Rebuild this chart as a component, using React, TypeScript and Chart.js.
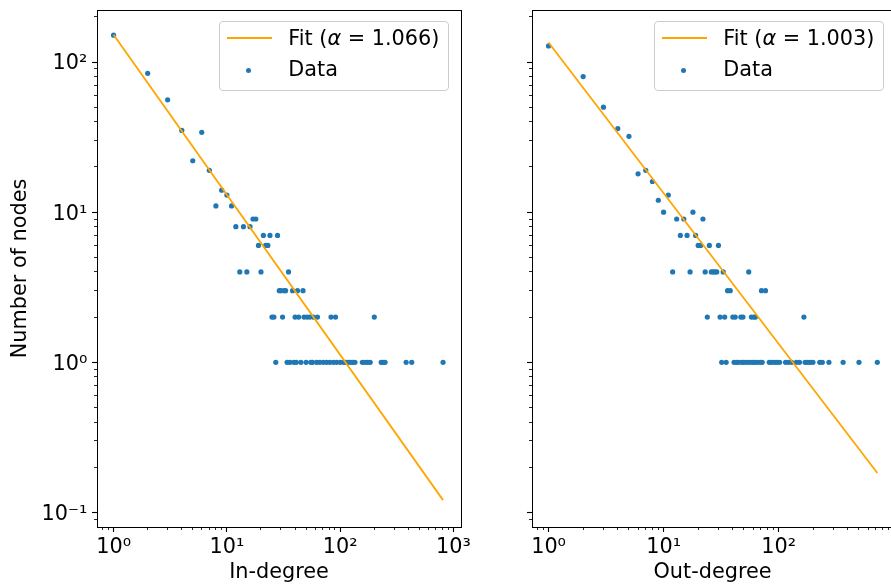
import React, { useEffect, useRef } from "react";
import { Chart, registerables } from "chart.js";

Chart.register(...registerables);

const FONT = "'DejaVu Sans', 'Noto Sans', sans-serif";
const FONT_SIZE = 20.8;

// ---- data ----
const inDegree = [1, 2, 3, 4, 5, 6, 7, 8, 9, 10, 11, 12, 13, 14, 15, 16, 17, 18, 19, 20, 21, 22, 23, 24, 25, 26, 27, 28, 29, 30, 31, 32, 33, 34, 35, 36, 38, 39, 40, 41, 42, 43, 45, 47, 48, 50, 51, 54, 55, 57, 58, 62, 63, 66, 71, 76, 81, 83, 87, 91, 93, 100, 107, 112, 117, 123, 129, 135, 157, 166, 175, 184, 200, 230, 239, 249, 382, 428, 809];
const inCount = [151, 84, 56, 35, 22, 34, 19, 11, 14, 13, 11, 8, 4, 8, 4, 8, 9, 9, 6, 4, 7, 6, 6, 7, 2, 2, 1, 7, 3, 3, 2, 3, 3, 1, 4, 1, 3, 1, 2, 1, 3, 2, 1, 3, 2, 1, 2, 2, 1, 1, 2, 1, 2, 1, 1, 1, 1, 2, 1, 2, 1, 1, 1, 1, 1, 1, 1, 1, 1, 1, 1, 1, 2, 1, 1, 1, 1, 1, 1];

const outDegree = [1, 2, 3, 4, 5, 6, 7, 8, 9, 10, 11, 12, 13, 14, 15, 16, 17, 18, 19, 20, 21, 22, 23, 24, 25, 26, 27, 28, 29, 30, 31, 32, 33, 34, 35, 36, 38, 40, 41, 42, 43, 45, 47, 48, 49, 50, 53, 55, 56, 58, 59, 61, 62, 63, 65, 69, 71, 72, 77, 83, 87, 92, 97, 102, 115, 122, 130, 143, 152, 166, 170, 179, 188, 199, 228, 240, 274, 364, 500, 722];
const outCount = [128, 80, 50, 36, 32, 18, 19, 16, 12, 10, 13, 4, 9, 7, 9, 7, 4, 10, 7, 6, 6, 9, 4, 2, 6, 4, 4, 4, 4, 6, 2, 1, 4, 2, 1, 3, 3, 2, 1, 2, 1, 1, 2, 1, 2, 1, 1, 4, 1, 2, 1, 2, 1, 2, 1, 1, 3, 1, 3, 1, 1, 1, 1, 1, 1, 1, 1, 1, 1, 2, 1, 1, 1, 1, 1, 1, 1, 1, 1, 1];

const fitInAlpha = 1.066;
const fitInScale = 152;
const fitOutAlpha = 1.003;
const fitOutScale = 135;

const yRange = [0.08, 222];
const xRangeIn = [0.714, 1165];
const xRangeOut = [0.718, 990];

const majorExponents = [-1, 0, 1, 2, 3];
const minorMultipliers = [2, 3, 4, 5, 6, 7, 8, 9];
const tickLabels: Record<string, string> = {
  "-1": "10\u207B\u00B9",
  "0": "10\u2070",
  "1": "10\u00B9",
  "2": "10\u00B2",
  "3": "10\u00B3",
};

// ---- helpers ----
function majorTicks(min: number, max: number) {
  return majorExponents
    .map((e) => Math.pow(10, e))
    .filter((v) => v >= min && v <= max);
}
function minorTicks(min: number, max: number) {
  const out: number[] = [];
  for (const e of [-2, ...majorExponents]) {
    for (const m of minorMultipliers) {
      const v = m * Math.pow(10, e);
      if (v > min * 1.005 && v < max / 1.005) out.push(v);
    }
  }
  return out;
}
function labelFor(v: number) {
  const e = Math.round(Math.log10(v));
  return tickLabels[String(e)] ?? "";
}
function noPad(s: any) {
  s.paddingTop = 0;
  s.paddingBottom = 0;
  s.paddingLeft = 0;
  s.paddingRight = 0;
}

type PanelOpts = {
  degrees: number[];
  counts: number[];
  alpha: number;
  scale: number;
  xRange: number[];
  xTitle: string;
  yTitle?: string;
  yLabels: boolean;
  yAxisWidth: number;
  padRight: number;
};

function panelConfig(o: PanelOpts): any {
  const [xMin, xMax] = o.xRange;
  const [yMin, yMax] = yRange;
  const dmax = Math.max(...o.degrees);
  const fit = [
    { x: 1, y: o.scale },
    { x: dmax, y: o.scale * Math.pow(dmax, -o.alpha) },
  ];
  const pts = o.degrees.map((d, i) => ({ x: d, y: o.counts[i] }));
  const font = { family: FONT, size: FONT_SIZE };

  const xBase = { type: "logarithmic", min: xMin, max: xMax, bounds: "data" };
  const yBase = { type: "logarithmic", min: yMin, max: yMax, bounds: "data" };

  return {
    type: "scatter",
    data: {
      datasets: [
        {
          label: "Fit",
          data: fit,
          showLine: true,
          borderColor: "#ffa500",
          borderWidth: 1.8,
          pointRadius: 0,
          fill: false,
          xAxisID: "x",
          yAxisID: "y",
        },
        {
          label: "Data",
          data: pts,
          backgroundColor: "#1f77b4",
          borderWidth: 0,
          pointRadius: 2.6,
          xAxisID: "x",
          yAxisID: "y",
        },
      ],
    },
    options: {
      responsive: false,
      animation: false,
      devicePixelRatio: 1,
      layout: { padding: { top: 10, right: o.padRight, bottom: 0, left: 0 } },
      plugins: { legend: { display: false }, tooltip: { enabled: false } },
      scales: {
        x: {
          ...xBase,
          position: "bottom",
          weight: 1,
          afterBuildTicks: (s: any) => {
            s.ticks = majorTicks(xMin, xMax).map((v) => ({ value: v }));
          },
          afterFit: (s: any) => {
            s.height = 58;
            noPad(s);
          },
          ticks: {
            callback: (v: any) => labelFor(Number(v)),
            font,
            color: "#000",
            padding: 3.5,
            autoSkip: false,
            maxRotation: 0,
            minRotation: 0,
          },
          grid: { drawOnChartArea: false, drawTicks: true, tickLength: 5, tickWidth: 1.1, tickColor: "#000" },
          border: { display: true, color: "#000", width: 1 },
          title: { display: true, text: o.xTitle, font, color: "#000", padding: { top: 0, bottom: 0 } },
        },
        xm: {
          ...xBase,
          position: "bottom",
          weight: 0,
          afterBuildTicks: (s: any) => {
            s.ticks = minorTicks(xMin, xMax).map((v) => ({ value: v }));
          },
          afterFit: (s: any) => {
            s.height = 0;
            noPad(s);
          },
          ticks: { display: false },
          grid: { drawOnChartArea: false, drawTicks: true, tickLength: 3, tickWidth: 0.85, tickColor: "#000" },
          border: { display: false },
        },
        xt: {
          ...xBase,
          position: "top",
          afterFit: (s: any) => {
            s.height = 0;
            noPad(s);
          },
          ticks: { display: false },
          grid: { display: false, drawTicks: false, drawOnChartArea: false },
          border: { display: true, color: "#000", width: 1 },
        },
        y: {
          ...yBase,
          position: "left",
          weight: 1,
          afterBuildTicks: (s: any) => {
            s.ticks = majorTicks(yMin, yMax).map((v) => ({ value: v }));
          },
          afterFit: (s: any) => {
            s.width = o.yAxisWidth;
            noPad(s);
          },
          ticks: {
            display: o.yLabels,
            callback: (v: any) => labelFor(Number(v)),
            font,
            color: "#000",
            padding: 4.7,
            autoSkip: false,
            labelOffset: 2,
          },
          grid: { drawOnChartArea: false, drawTicks: true, tickLength: 5, tickWidth: 1.1, tickColor: "#000" },
          border: { display: true, color: "#000", width: 1 },
          title: {
            display: !!o.yTitle,
            text: o.yTitle || "",
            font,
            color: "#000",
            padding: { top: 8.5, bottom: 0 },
          },
        },
        ym: {
          ...yBase,
          position: "left",
          weight: 0,
          afterBuildTicks: (s: any) => {
            s.ticks = minorTicks(yMin, yMax).map((v) => ({ value: v }));
          },
          afterFit: (s: any) => {
            s.width = 0;
            noPad(s);
          },
          ticks: { display: false },
          grid: { drawOnChartArea: false, drawTicks: true, tickLength: 3, tickWidth: 0.85, tickColor: "#000" },
          border: { display: false },
        },
        yr: {
          ...yBase,
          position: "right",
          afterFit: (s: any) => {
            s.width = 0;
            noPad(s);
          },
          ticks: { display: false },
          grid: { display: false, drawTicks: false, drawOnChartArea: false },
          border: { display: true, color: "#000", width: 1 },
        },
      },
    },
  };
}

function Legend({ left, alpha }: { left: number; alpha: string }) {
  return (
    <div
      style={{
        position: "absolute",
        left,
        top: 20.5,
        width: 230,
        height: 70,
        boxSizing: "border-box",
        border: "1px solid #cccccc",
        borderRadius: 4,
        background: "rgba(255,255,255,0.8)",
        fontFamily: FONT,
        fontSize: FONT_SIZE,
        color: "#000",
      }}
    >
      <div style={{ position: "absolute", left: 7, top: 15.2, width: 45, height: 2, background: "#ffa500" }} />
      <div style={{ position: "absolute", left: 68.3, top: 4.1, lineHeight: "24px", whiteSpace: "nowrap" }}>
        Fit (<i>α</i> = {alpha})
      </div>
      <div
        style={{
          position: "absolute",
          left: 25.5,
          top: 46.8,
          width: 5.2,
          height: 5.2,
          borderRadius: "50%",
          background: "#1f77b4",
        }}
      />
      <div style={{ position: "absolute", left: 68.3, top: 35.8, lineHeight: "24px", whiteSpace: "nowrap" }}>
        Data
      </div>
    </div>
  );
}

export default function App() {
  const leftRef = useRef<HTMLCanvasElement>(null);
  const rightRef = useRef<HTMLCanvasElement>(null);

  useEffect(() => {
    const c1 = new Chart(
      leftRef.current as HTMLCanvasElement,
      panelConfig({
        degrees: inDegree,
        counts: inCount,
        alpha: fitInAlpha,
        scale: fitInScale,
        xRange: xRangeIn,
        xTitle: "In-degree",
        yTitle: "Number of nodes",
        yLabels: true,
        yAxisWidth: 97,
        padRight: 500 - 461,
      })
    );
    const c2 = new Chart(
      rightRef.current as HTMLCanvasElement,
      panelConfig({
        degrees: outDegree,
        counts: outCount,
        alpha: fitOutAlpha,
        scale: fitOutScale,
        xRange: xRangeOut,
        xTitle: "Out-degree",
        yLabels: false,
        yAxisWidth: 52,
        padRight: 460 - (893.1 - 480),
      })
    );
    return () => {
      c1.destroy();
      c2.destroy();
    };
  }, []);

  return (
    <div
      style={{
        position: "absolute",
        left: 0,
        top: 0,
        width: 891,
        height: 585,
        overflow: "hidden",
        background: "#fff",
      }}
    >
      <canvas
        ref={leftRef}
        width={500}
        height={585}
        style={{ position: "absolute", left: 0, top: 0, width: 500, height: 585 }}
      />
      <canvas
        ref={rightRef}
        width={460}
        height={585}
        style={{ position: "absolute", left: 480, top: 0, width: 460, height: 585 }}
      />
      <Legend left={219} alpha="1.066" />
      <Legend left={654} alpha="1.003" />
    </div>
  );
}
